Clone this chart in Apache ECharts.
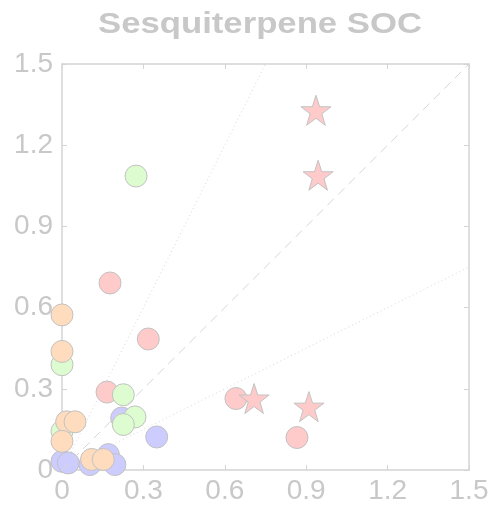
<!DOCTYPE html>
<html>
<head>
<meta charset="utf-8">
<script src="https://cdn.jsdelivr.net/npm/echarts@6/dist/echarts.min.js"></script>
<style>
  html, body { margin: 0; padding: 0; background: #fff; }
  #chart { width: 492px; height: 505px; }
</style>
</head>
<body>
<div id="chart"></div>
<script>
// Axis ticks
const tickValues = [0, 0.3, 0.6, 0.9, 1.2, 1.5];
const tickLabels = ['0', '0.3', '0.6', '0.9', '1.2', '1.5'];

// Measured (x) vs predicted (y) SOC, grouped by source
const blueCircles = [[0.22, 0.192], [0.349, 0.122], [0.0, 0.032], [0.023, 0.026], [0.103, 0.02], [0.171, 0.057], [0.195, 0.02]];
const redCircles = [[0.177, 0.691], [0.318, 0.484], [0.166, 0.288], [0.641, 0.264], [0.866, 0.12]];
const redStars = [[0.936, 1.329], [0.944, 1.089], [0.708, 0.264], [0.91, 0.234]];
const greenCircles = [[0.273, 1.086], [0.0, 0.389], [0.226, 0.278], [0.269, 0.196], [0.226, 0.168], [0.0, 0.143]];
const peachCircles = [[0.0, 0.573], [0.0, 0.438], [0.017, 0.178], [0.048, 0.178], [0.0, 0.106], [0.109, 0.039], [0.152, 0.039]];

// Reference lines: 1:1 and factor-of-two bounds
const oneToOne = [[0, 0], [1.5, 1.5]];
const twoToOne = [[0, 0], [0.75, 1.5]];
const oneToTwo = [[0, 0], [1.5, 0.75]];

const titleText = 'Sesquiterpene SOC';

const starPath = 'path://M50,0 L61.8,35.1 L98.9,35.1 L69.1,56.7 L80.3,91.8 L50,70.2 L19.7,91.8 L30.9,56.7 L1.1,35.1 L38.2,35.1 Z';

const labelColor = '#c8c8c8';
const frameColor = '#d4d4d4';
const fontFamily = 'Liberation Sans, Arial, sans-serif';
const fmt = v => {
  const i = tickValues.findIndex(t => Math.abs(t - v) < 1e-6);
  return i >= 0 ? tickLabels[i] : '';
};

function axis(pos, showLabel, margin) {
  return {
    type: 'value', position: pos, min: 0, max: 1.5, interval: 0.3,
    axisLine: { show: true, onZero: false, lineStyle: { color: frameColor, width: 1.5 } },
    axisTick: { show: true, inside: true, length: 5, lineStyle: { color: frameColor, width: 1 } },
    splitLine: { show: false },
    axisLabel: {
      show: showLabel, formatter: fmt, color: labelColor, fontSize: 28,
      fontFamily, margin
    }
  };
}

function scatter(name, data, color, symbol, size) {
  return {
    name, type: 'scatter', data, symbol, symbolSize: size,
    xAxisIndex: 0, yAxisIndex: 0,
    itemStyle: { color, borderColor: '#c2c2c2', borderWidth: 1, opacity: 1 },
    emphasis: { disabled: true }
  };
}

function refLine(data, type, color) {
  return {
    type: 'line', data, symbol: 'none', silent: true,
    xAxisIndex: 0, yAxisIndex: 0,
    lineStyle: { color, width: 1, type }
  };
}

const chart = echarts.init(document.getElementById('chart'), null, { renderer: 'canvas' });
chart.setOption({
  animation: false,
  backgroundColor: '#fff',
  graphic: [{
    type: 'text', x: 260, y: 10, scaleX: 1.157, silent: true,
    style: {
      text: titleText, fill: labelColor, fontSize: 30, fontWeight: 'bold',
      fontFamily, textAlign: 'center', textVerticalAlign: 'top'
    }
  }],
  grid: { left: 62, top: 64, width: 407, height: 407, containLabel: false },
  xAxis: [axis('bottom', true, 7), axis('top', false, 7)],
  yAxis: [axis('left', true, 9), axis('right', false, 9)],
  series: [
    refLine(oneToOne, [9, 6], '#d6d6d6'),
    refLine(twoToOne, [1, 3], '#d6d6d6'),
    refLine(oneToTwo, [1, 3], '#d6d6d6'),
    scatter('blue', blueCircles, '#ccccff', 'circle', 22),
    scatter('red', redCircles, '#ffcaca', 'circle', 22),
    scatter('redStar', redStars, '#ffcaca', starPath, 30),
    scatter('green', greenCircles, '#ddfccf', 'circle', 22),
    scatter('peach', peachCircles, '#ffdcbd', 'circle', 22)
  ]
});
</script>
</body>
</html>
